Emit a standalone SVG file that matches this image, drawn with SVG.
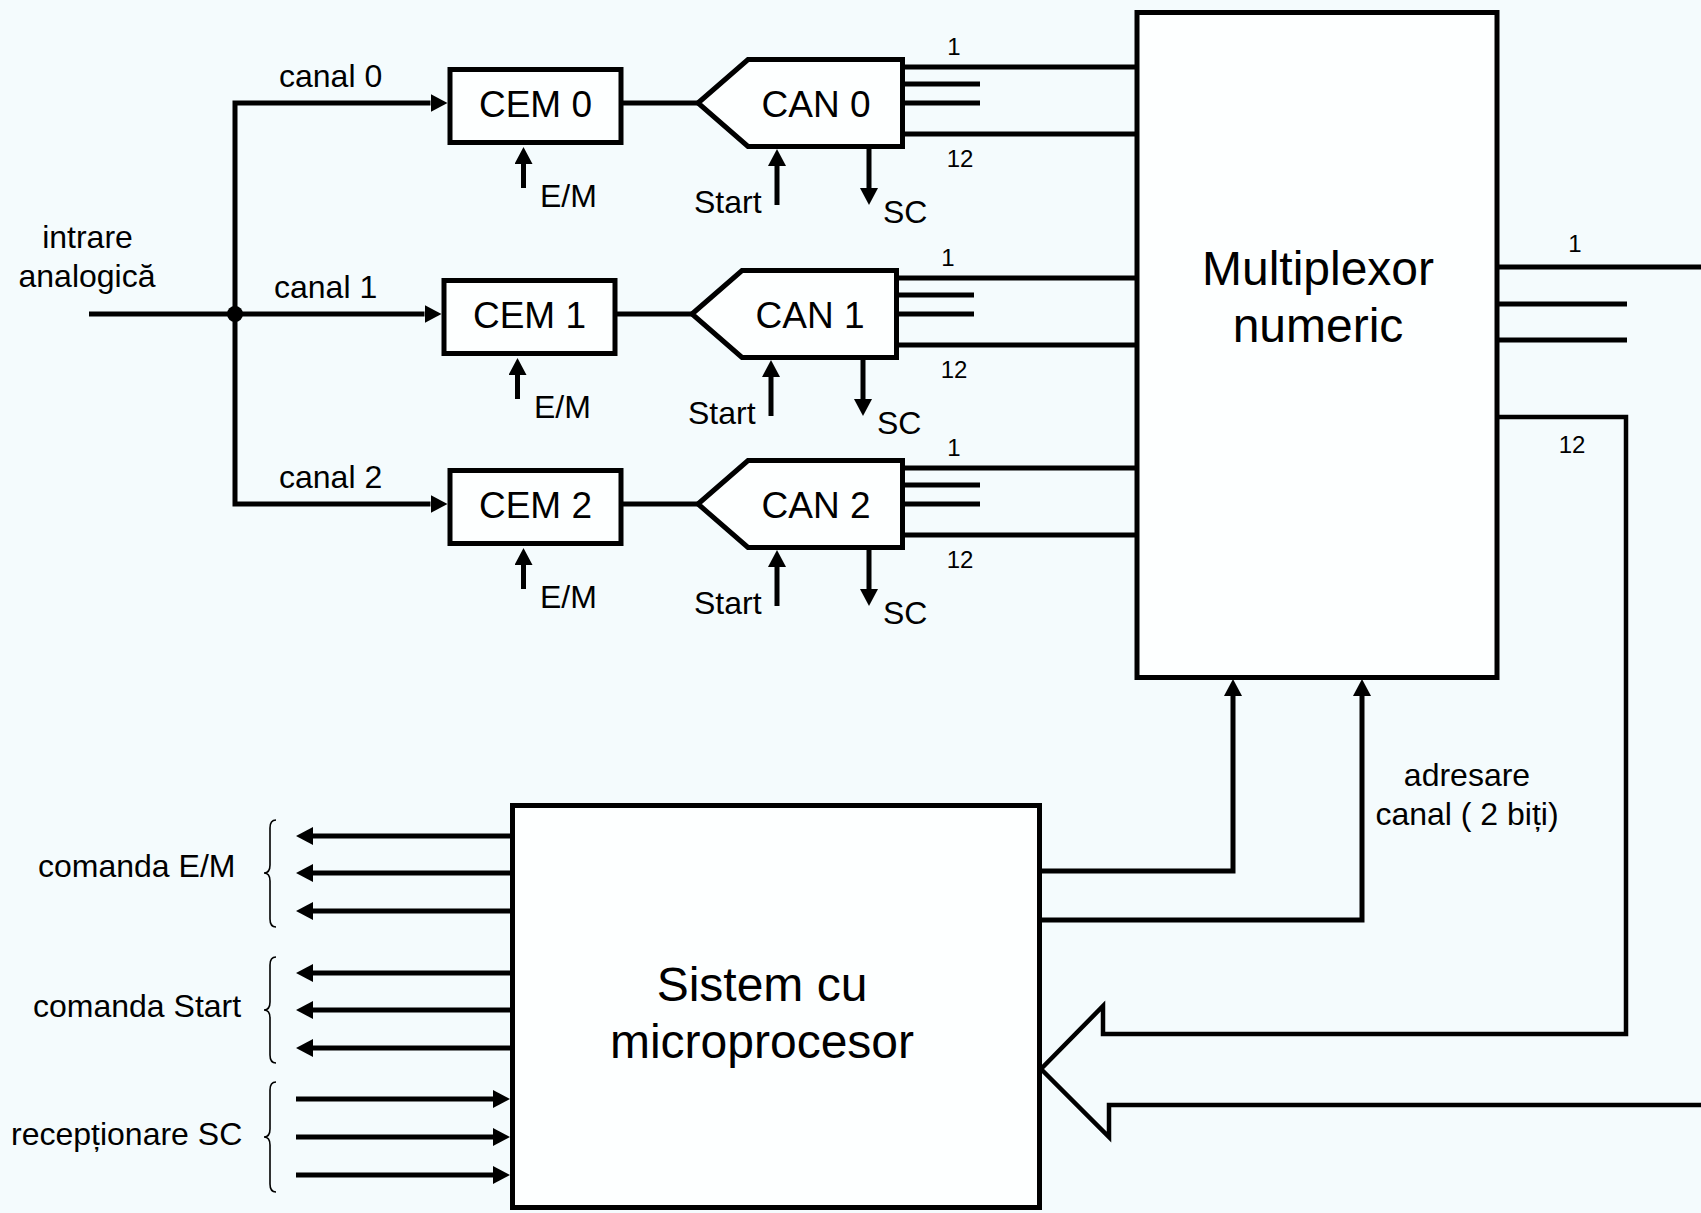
<svg xmlns="http://www.w3.org/2000/svg" width="1701" height="1213" viewBox="0 0 1701 1213">
<defs>
<style>
.ln{fill:none;stroke:#000;stroke-width:5;stroke-linejoin:miter}
.th{fill:none;stroke:#000;stroke-width:1.6}
.bx{fill:#fdffff;stroke:#000;stroke-width:5}
.t{font-family:"Liberation Sans",Arial,sans-serif;fill:#000}
.s31{font-size:32px}
.s24{font-size:24px}
.s37{font-size:37px}
.s48{font-size:48px}
.m{text-anchor:middle}
</style>
<marker id="ah" markerUnits="userSpaceOnUse" markerWidth="17" markerHeight="18" viewBox="0 0 17 18" refX="0" refY="9" orient="auto">
<path d="M0,0 L17,9 L0,18 z" fill="#000"/>
</marker>
</defs>
<rect x="0" y="0" width="1701" height="1213" fill="#f4fbfd"/>

<g id="connectors">
<path class="ln" d="M89,314 H424.5" marker-end="url(#ah)"/>
<path class="ln" d="M235,314 V103 H430.5" marker-end="url(#ah)"/>
<path class="ln" d="M235,314 V504 H430.5" marker-end="url(#ah)"/>
<circle cx="235" cy="314" r="8" fill="#000"/>

<path class="ln" d="M623,103 H698"/>
<path class="ln" d="M617,314 H692"/>
<path class="ln" d="M623,504 H698"/>

<path class="ln" d="M905,67 H1137 M905,134 H1137 M905,84 H980 M905,103 H980"/>
<path class="ln" d="M899,278 H1137 M899,345 H1137 M899,295 H974 M899,314 H974"/>
<path class="ln" d="M905,468 H1137 M905,535 H1137 M905,485 H980 M905,504 H980"/>

<path class="ln" d="M523.5,188 V164" marker-end="url(#ah)"/>
<path class="ln" d="M517.5,399 V375" marker-end="url(#ah)"/>
<path class="ln" d="M523.5,589 V565" marker-end="url(#ah)"/>

<path class="ln" d="M777,205 V166" marker-end="url(#ah)"/>
<path class="ln" d="M771,416 V377" marker-end="url(#ah)"/>
<path class="ln" d="M777,606 V567" marker-end="url(#ah)"/>

<path class="ln" d="M869,149 V188" marker-end="url(#ah)"/>
<path class="ln" d="M863,360 V399" marker-end="url(#ah)"/>
<path class="ln" d="M869,550 V589" marker-end="url(#ah)"/>

<path class="ln" d="M1496,267 H1701 M1496,304 H1627 M1496,340 H1627"/>
<path class="ln" style="stroke-width:4.5" d="M1496,417 H1626 V1034 H1103 V1006 L1041,1069 L1109,1137 V1105 H1701"/>

<path class="ln" d="M1041,871 H1233 V696" marker-end="url(#ah)"/>
<path class="ln" d="M1041,920 H1362 V696" marker-end="url(#ah)"/>

<path class="ln" d="M510,836 H313" marker-end="url(#ah)"/>
<path class="ln" d="M510,873 H313" marker-end="url(#ah)"/>
<path class="ln" d="M510,911 H313" marker-end="url(#ah)"/>
<path class="ln" d="M510,973 H313" marker-end="url(#ah)"/>
<path class="ln" d="M510,1010 H313" marker-end="url(#ah)"/>
<path class="ln" d="M510,1048 H313" marker-end="url(#ah)"/>
<path class="ln" d="M296,1099 H493" marker-end="url(#ah)"/>
<path class="ln" d="M296,1137 H493" marker-end="url(#ah)"/>
<path class="ln" d="M296,1175 H493" marker-end="url(#ah)"/>

<path class="th" d="M276,820 Q270,820 270,828 V865 Q270,873 264,873 Q270,873 270,881 V919 Q270,927 276,927"/>
<path class="th" d="M276,957 Q270,957 270,965 V1002 Q270,1010 264,1010 Q270,1010 270,1018 V1055 Q270,1063 276,1063"/>
<path class="th" d="M276,1082 Q270,1082 270,1090 V1129 Q270,1137 264,1137 Q270,1137 270,1145 V1184 Q270,1192 276,1192"/>
</g>

<g id="labels">
<text class="t s31 m" x="87.5" y="248">intrare</text>
<text class="t s31 m" x="87" y="287">analogică</text>
<text class="t s31" x="279" y="87">canal 0</text>
<text class="t s31" x="274" y="298">canal 1</text>
<text class="t s31" x="279" y="488">canal 2</text>

<text class="t s31" x="540" y="207">E/M</text>
<text class="t s31" x="534" y="418">E/M</text>
<text class="t s31" x="540" y="608">E/M</text>
<text class="t s31" x="694" y="213">Start</text>
<text class="t s31" x="688" y="424">Start</text>
<text class="t s31" x="694" y="614">Start</text>
<text class="t s31" x="883" y="223">SC</text>
<text class="t s31" x="877" y="434">SC</text>
<text class="t s31" x="883" y="624">SC</text>

<text class="t s24 m" x="954" y="55">1</text>
<text class="t s24 m" x="960" y="167">12</text>
<text class="t s24 m" x="948" y="266">1</text>
<text class="t s24 m" x="954" y="378">12</text>
<text class="t s24 m" x="954" y="456">1</text>
<text class="t s24 m" x="960" y="568">12</text>
<text class="t s24 m" x="1575" y="252">1</text>
<text class="t s24 m" x="1572" y="453">12</text>

<text class="t s31 m" x="1467" y="786">adresare</text>
<text class="t s31 m" x="1467" y="825">canal ( 2 biți)</text>

<text class="t s31" x="38" y="877">comanda E/M</text>
<text class="t s31" x="33" y="1017">comanda Start</text>
<text class="t s31" x="11" y="1145">recepționare SC</text>
</g>

<g id="cem0"><rect class="bx" x="450" y="69.5" width="171" height="73"/><text class="t s37 m" x="535.5" y="117">CEM 0</text></g>
<g id="cem1"><rect class="bx" x="444" y="280.5" width="171" height="73"/><text class="t s37 m" x="529.5" y="328">CEM 1</text></g>
<g id="cem2"><rect class="bx" x="450" y="470.5" width="171" height="73"/><text class="t s37 m" x="535.5" y="518">CEM 2</text></g>

<g id="can0"><polygon class="bx" points="698,103 748,59.5 902.5,59.5 902.5,146.5 748,146.5"/><text class="t s37 m" x="816" y="117">CAN 0</text></g>
<g id="can1"><polygon class="bx" points="692,314 742,270.5 896.5,270.5 896.5,357.5 742,357.5"/><text class="t s37 m" x="810" y="328">CAN 1</text></g>
<g id="can2"><polygon class="bx" points="698,504 748,460.5 902.5,460.5 902.5,547.5 748,547.5"/><text class="t s37 m" x="816" y="518">CAN 2</text></g>

<g id="mux"><rect class="bx" x="1137" y="12.5" width="360" height="665"/><text class="t s48 m" x="1318" y="285">Multiplexor</text><text class="t s48 m" x="1318" y="342">numeric</text></g>

<g id="micro"><rect class="bx" x="512.5" y="805.5" width="527" height="402"/><text class="t s48 m" x="762" y="1001">Sistem cu</text><text class="t s48 m" x="762" y="1058">microprocesor</text></g>
</svg>
